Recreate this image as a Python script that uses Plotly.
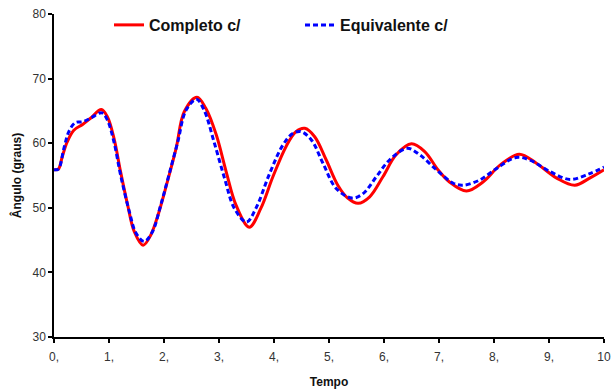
import plotly.graph_objects as go

# Tempo (s) e ângulo (graus) — modelo completo
t_completo = [0, 0.08, 0.15, 0.24, 0.36, 0.52, 0.67, 0.86, 0.97, 1.09, 1.21, 1.34, 1.46, 1.62,
              1.76, 1.91, 2.06, 2.22, 2.37, 2.6, 2.76, 2.95, 3.13, 3.31, 3.55, 3.76, 3.98,
              4.22, 4.4, 4.56, 4.74, 4.95, 5.16, 5.34, 5.53, 5.74, 5.98, 6.22, 6.5, 6.74,
              6.98, 7.19, 7.5, 7.8, 8.11, 8.46, 8.77, 9.14, 9.47, 9.74, 10.0]
ang_completo = [55.9, 56.0, 57.9, 60.2, 62.0, 62.9, 63.9, 65.2, 64.1, 60.8, 55.6, 50.4, 46.3, 44.2,
                45.8, 49.4, 54.0, 59.2, 64.9, 67.1, 65.4, 61.3, 55.6, 50.4, 47.0, 49.9, 54.8,
                59.5, 61.8, 62.3, 61.0, 57.4, 53.5, 51.5, 50.7, 51.7, 54.8, 58.2, 59.9, 58.7,
                55.9, 54.0, 52.6, 54.0, 56.6, 58.3, 56.9, 54.6, 53.5, 54.6, 55.9]

# Modelo equivalente
t_equiv = [0, 0.08, 0.18, 0.27, 0.39, 0.52, 0.67, 0.87, 0.97, 1.09, 1.21, 1.37, 1.49, 1.64,
           1.79, 1.94, 2.09, 2.25, 2.4, 2.59, 2.73, 2.91, 3.1, 3.28, 3.5, 3.67, 3.92, 4.16,
           4.34, 4.49, 4.68, 4.89, 5.13, 5.42, 5.62, 5.86, 6.1, 6.42, 6.65, 6.95, 7.26,
           7.44, 7.74, 8.05, 8.4, 8.65, 9.02, 9.38, 9.74, 10.0]
ang_equiv = [55.9, 56.0, 59.2, 61.8, 63.2, 63.3, 63.9, 64.7, 63.6, 60.2, 55.1, 49.4, 46.1, 44.8,
             46.3, 50.4, 55.1, 60.2, 65.1, 66.8, 65.1, 60.2, 54.6, 49.9, 47.8, 49.9, 55.3, 59.7,
             61.5, 61.8, 60.5, 56.9, 53.0, 51.5, 52.2, 54.8, 57.4, 59.2, 58.2, 55.9, 53.8,
             53.5, 54.3, 56.1, 57.8, 57.4, 55.6, 54.4, 55.3, 56.3]

x_tickvals = [0, 1, 2, 3, 4, 5, 6, 7, 8, 9, 10]
x_ticktext = ["0,", "1,", "2,", "3,", "4,", "5,", "6,", "7,", "8,", "9,", "10"]
y_tickvals = [30, 40, 50, 60, 70, 80]

FONT = "Liberation Sans, Arial, sans-serif"

fig = go.Figure()
fig.add_trace(go.Scatter(
    x=t_completo, y=ang_completo, mode="lines", name="<b>Completo c/</b>",
    line=dict(color="#ff0000", width=3, shape="spline", smoothing=1.0)))
fig.add_trace(go.Scatter(
    x=t_equiv, y=ang_equiv, mode="lines", name="<b>Equivalente c/</b>",
    line=dict(color="#0000ff", width=3, dash="5px,3px", shape="spline", smoothing=1.0)))

fig.update_layout(
    width=616, height=389,
    margin=dict(l=54, r=12, t=14, b=52, autoexpand=False),
    paper_bgcolor="white", plot_bgcolor="white",
    font=dict(family=FONT, color="#222222", size=12),
    showlegend=True,
    legend=dict(orientation="h", x=0.1, xanchor="left", y=0.966, yanchor="middle",
                font=dict(size=16, color="#111111", family=FONT),
                entrywidth=146, entrywidthmode="pixels",
                bgcolor="rgba(0,0,0,0)", itemwidth=30, tracegroupgap=0),
    xaxis=dict(range=[0, 10], tickvals=x_tickvals, ticktext=x_ticktext, automargin=False,
               showgrid=False, zeroline=False, showline=True, linecolor="black", linewidth=1.5,
               ticks="outside", ticklen=4, tickcolor="black", tickwidth=1.5,
               ticklabelstandoff=4,
               tickfont=dict(size=12, color="#333333"),
               title=dict(text="<b>Tempo</b>", font=dict(size=12, color="#111111"), standoff=14)),
    yaxis=dict(range=[30, 80], tickvals=y_tickvals, automargin=False,
               showgrid=False, zeroline=False, showline=True, linecolor="black", linewidth=1.5,
               ticks="outside", ticklen=4, tickcolor="black", tickwidth=1.5,
               tickfont=dict(size=12, color="#333333"),
               title=dict(text="<b>Ângulo (graus)</b>", font=dict(size=12, color="#111111"), standoff=8)),
)

fig.write_html("out.html")
